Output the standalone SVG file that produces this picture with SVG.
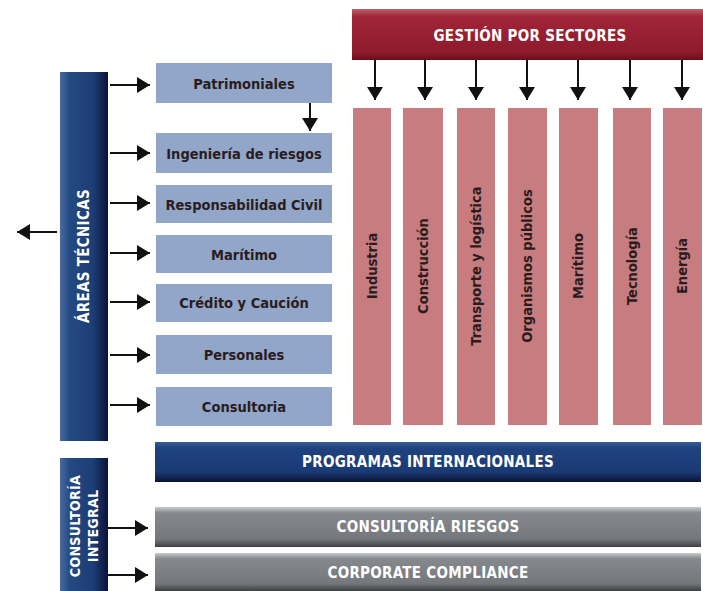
<svg xmlns="http://www.w3.org/2000/svg" width="703" height="591" viewBox="0 0 703 591">
<defs>
<linearGradient id="gRed" x1="0" y1="0" x2="0" y2="1">
<stop offset="0" stop-color="#c0606c"/>
<stop offset="0.15" stop-color="#a02638"/>
<stop offset="0.85" stop-color="#8e1a2c"/>
<stop offset="1" stop-color="#6a0f1c"/>
</linearGradient>
<linearGradient id="gBlueV" x1="0" y1="0" x2="1" y2="0">
<stop offset="0" stop-color="#4a6aa0"/>
<stop offset="0.2" stop-color="#244a82"/>
<stop offset="0.7" stop-color="#1c3c74"/>
<stop offset="1" stop-color="#0a1238"/>
</linearGradient>
<linearGradient id="gBlueH" x1="0" y1="0" x2="0" y2="1">
<stop offset="0" stop-color="#3a5c94"/>
<stop offset="0.15" stop-color="#1f4280"/>
<stop offset="0.75" stop-color="#1a3a74"/>
<stop offset="1" stop-color="#0a1434"/>
</linearGradient>
<linearGradient id="gGray" x1="0" y1="0" x2="0" y2="1">
<stop offset="0" stop-color="#c8cacc"/>
<stop offset="0.15" stop-color="#85888c"/>
<stop offset="0.8" stop-color="#74777b"/>
<stop offset="1" stop-color="#3e4044"/>
</linearGradient>
<marker id="ah" viewBox="0 0 13 16" refX="13" refY="8" markerWidth="13" markerHeight="16" markerUnits="userSpaceOnUse" orient="auto">
<path d="M0,0 L13,8 L0,16 z" fill="#111"/>
</marker>
<style>
.t{font-family:"DejaVu Sans Condensed","DejaVu Sans","Liberation Sans",sans-serif;font-weight:bold;text-anchor:middle;dominant-baseline:central}
.box{fill:#91a6c9}
.col{fill:#c77d80}
.dark{fill:#2a1c1c;font-size:14.5px}
.white{fill:#ffffff;font-size:15px;letter-spacing:0.3px}
.conn line{stroke:#111;stroke-width:2;marker-end:url(#ah)}
</style>
</defs>
<rect width="703" height="591" fill="#ffffff"/>

<g id="gestion">
<rect x="352" y="9" width="351" height="51" fill="url(#gRed)"/>
<text class="t white" x="530" y="36">GESTIÓN POR SECTORES</text>
</g>

<g id="areas">
<rect x="60" y="72" width="48" height="369" fill="url(#gBlueV)"/>
<text class="t white" x="84" y="256" transform="rotate(-90 84 256)">ÁREAS TÉCNICAS</text>
</g>

<g id="patrimoniales"><rect class="box" x="156" y="63" width="176" height="40"/><text class="t dark" x="244" y="84">Patrimoniales</text></g>
<g id="ingenieria"><rect class="box" x="156" y="133" width="176" height="40"/><text class="t dark" x="244" y="154">Ingeniería de riesgos</text></g>
<g id="responsabilidad"><rect class="box" x="156" y="185" width="176" height="38"/><text class="t dark" x="244" y="205">Responsabilidad Civil</text></g>
<g id="maritimo-area"><rect class="box" x="156" y="235" width="176" height="38"/><text class="t dark" x="244" y="255">Marítimo</text></g>
<g id="credito"><rect class="box" x="156" y="284" width="176" height="38"/><text class="t dark" x="244" y="303">Crédito y Caución</text></g>
<g id="personales"><rect class="box" x="156" y="335" width="176" height="39"/><text class="t dark" x="244" y="355">Personales</text></g>
<g id="consultoria"><rect class="box" x="156" y="387" width="176" height="39"/><text class="t dark" x="244" y="407">Consultoria</text></g>

<g id="industria"><rect class="col" x="353" y="108" width="38" height="317"/><text class="t dark" x="372" y="266" transform="rotate(-90 372 266)">Industria</text></g>
<g id="construccion"><rect class="col" x="403" y="108" width="40" height="317"/><text class="t dark" x="423" y="266" transform="rotate(-90 423 266)">Construcción</text></g>
<g id="transporte"><rect class="col" x="457" y="108" width="38" height="317"/><text class="t dark" x="476" y="266" transform="rotate(-90 476 266)">Transporte y logística</text></g>
<g id="organismos"><rect class="col" x="508" y="108" width="39" height="317"/><text class="t dark" x="527" y="266" transform="rotate(-90 527 266)">Organismos públicos</text></g>
<g id="maritimo-sector"><rect class="col" x="559" y="108" width="39" height="317"/><text class="t dark" x="578" y="266" transform="rotate(-90 578 266)">Marítimo</text></g>
<g id="tecnologia"><rect class="col" x="613" y="108" width="38" height="317"/><text class="t dark" x="632" y="266" transform="rotate(-90 632 266)">Tecnología</text></g>
<g id="energia"><rect class="col" x="663" y="108" width="39" height="317"/><text class="t dark" x="682" y="266" transform="rotate(-90 682 266)">Energía</text></g>

<g id="programas">
<rect x="155" y="442" width="546" height="40" fill="url(#gBlueH)"/>
<text class="t white" x="428" y="462">PROGRAMAS INTERNACIONALES</text>
</g>

<g id="consultoria-integral">
<rect x="60" y="458" width="48" height="133" fill="url(#gBlueV)"/>
<text class="t white" x="75" y="526" transform="rotate(-90 75 526)" style="font-size:14px">CONSULTORÍA</text>
<text class="t white" x="93" y="526" transform="rotate(-90 93 526)" style="font-size:14px">INTEGRAL</text>
</g>

<g id="consultoria-riesgos">
<rect x="155" y="507" width="546" height="40" fill="url(#gGray)"/>
<text class="t white" x="428" y="527">CONSULTORÍA RIESGOS</text>
</g>
<g id="corporate-compliance">
<rect x="155" y="553" width="546" height="38" fill="url(#gGray)"/>
<text class="t white" x="428" y="573">CORPORATE COMPLIANCE</text>
</g>

<g id="connectors" class="conn">
<line x1="375" y1="60" x2="375" y2="100"/>
<line x1="425" y1="60" x2="425" y2="100"/>
<line x1="476" y1="60" x2="476" y2="100"/>
<line x1="527" y1="60" x2="527" y2="100"/>
<line x1="578" y1="60" x2="578" y2="100"/>
<line x1="630" y1="60" x2="630" y2="100"/>
<line x1="682" y1="60" x2="682" y2="100"/>
<line x1="110" y1="85" x2="150" y2="85"/>
<line x1="110" y1="153" x2="150" y2="153"/>
<line x1="110" y1="203" x2="150" y2="203"/>
<line x1="110" y1="253" x2="150" y2="253"/>
<line x1="110" y1="302" x2="150" y2="302"/>
<line x1="110" y1="355" x2="150" y2="355"/>
<line x1="110" y1="405" x2="150" y2="405"/>
<line x1="310" y1="103" x2="310" y2="131"/>
<line x1="57" y1="232" x2="17" y2="232"/>
<line x1="108" y1="528" x2="148" y2="528"/>
<line x1="108" y1="575" x2="148" y2="575"/>
</g>
</svg>
